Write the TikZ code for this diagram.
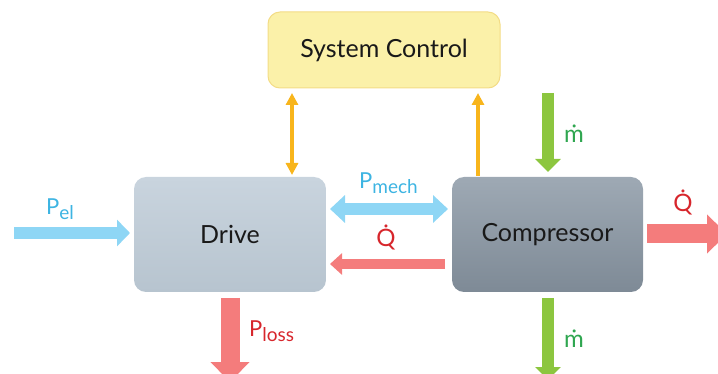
\documentclass[tikz,border=0pt]{standalone}
\usepackage{fontspec}
\setmainfont{Lato}
\usetikzlibrary{arrows.meta}
\definecolor{cblue}{HTML}{8ED6F5}
\definecolor{tblue}{HTML}{3DB4E2}
\definecolor{cred}{HTML}{F47C7C}
\definecolor{tred}{HTML}{D7262C}
\definecolor{cgreen}{HTML}{8CC63F}
\definecolor{tgreen}{HTML}{2FA650}
\definecolor{corange}{HTML}{F8B51C}
\definecolor{cyel}{HTML}{FBF1A9}
\definecolor{cyelb}{HTML}{F3DC86}
\definecolor{drtop}{HTML}{C9D4DE}
\definecolor{drbot}{HTML}{B7C4CF}
\definecolor{cotop}{HTML}{9EA9B4}
\definecolor{cobot}{HTML}{7E8A96}
\newcommand{\lowsub}[1]{\raisebox{-5pt}{\fontsize{19}{22}\selectfont #1}}
\tikzset{
  box/.style={rounded corners=12pt, font=\fontsize{25}{29}\selectfont, text=black!90, inner sep=0pt},
  lbl/.style={font=\fontsize{22}{26}\selectfont, inner sep=0pt},
  dlbl/.style={font=\fontsize{24}{28}\selectfont, inner sep=0pt},
  ctrlarrow/.style={draw=corange, line width=3.5pt, -{Triangle[width=12pt,length=12pt]}},
  ctrlarrows/.style={draw=corange, line width=3.5pt, {Triangle[width=12pt,length=12pt]}-{Triangle[width=12pt,length=12pt]}},
  bluearrow/.style={draw=cblue, line width=12pt, -{Triangle[width=26pt,length=13pt]}},
  bluearrows/.style={draw=cblue, line width=12pt, {Triangle[width=27pt,length=15pt]}-{Triangle[width=27pt,length=15pt]}},
  greenarrow/.style={draw=cgreen, line width=12pt, -{Triangle[width=25pt,length=13pt]}},
  redthin/.style={draw=cred, line width=10pt, -{Triangle[width=21pt,length=12pt]}},
  redthick/.style={draw=cred, line width=19pt, -{Triangle[width=38pt,length=20pt]}},
}
\begin{document}
\begin{tikzpicture}[x=1pt,y=-1pt]
\useasboundingbox (0,0) rectangle (718,374);
\clip (0,0) rectangle (718,374);
\node[box, fill=cyel, draw=cyelb, line width=1pt, minimum width=232pt, minimum height=76pt] (ctrl) at (384,50) {System Control};
\node[box, top color=drtop, bottom color=drbot, minimum width=192pt, minimum height=115pt] (drive) at (230,234.5) {Drive};
\node[box, top color=cotop, bottom color=cobot, minimum width=191pt, minimum height=115pt] (comp) at (547.5,234.5) {Compressor};

\coordinate (pel) at (14,233);
\coordinate (pelend) at (130,233);
\draw[bluearrow] (pel) -- (pelend);
\node[lbl, text=tblue, anchor=base west] (lpel) at (46,215) {P\lowsub{el}};

\coordinate (ma) at (330,209);
\coordinate (mb) at (448,209);
\draw[bluearrows] (ma) -- (mb);
\node[lbl, text=tblue, anchor=base west] (lpm) at (359,189) {P\lowsub{mech}};

\coordinate (qa) at (445,264);
\coordinate (qb) at (330,264);
\draw[redthin] (qa) -- (qb);
\node[dlbl, text=tred, anchor=base] (lq1) at (386,247) {\.{Q}};

\coordinate (qra) at (647,234);
\coordinate (qrb) at (727,234);
\draw[redthick] (qra) -- (qrb);
\node[dlbl, text=tred, anchor=base] (lq2) at (683,212) {\.{Q}};

\coordinate (pla) at (230,298);
\coordinate (plb) at (230,382);
\draw[redthick] (pla) -- (plb);
\node[lbl, text=tred, anchor=base west] (lpl) at (249,337) {P\lowsub{loss}};

\coordinate (mta) at (548,93);
\coordinate (mtb) at (548,172);
\draw[greenarrow] (mta) -- (mtb);
\node[dlbl, text=tgreen, anchor=base] (lm1) at (574,143) {\.{m}};

\coordinate (mba) at (548,298);
\coordinate (mbb) at (548,380);
\draw[greenarrow] (mba) -- (mbb);
\node[dlbl, text=tgreen, anchor=base] (lm2) at (574,347) {\.{m}};

\coordinate (oa) at (292,93);
\coordinate (ob) at (292,175);
\draw[ctrlarrows] (oa) -- (ob);
\coordinate (oc) at (478,176);
\coordinate (od) at (478,93);
\draw[ctrlarrow] (oc) -- (od);
\end{tikzpicture}
\end{document}
